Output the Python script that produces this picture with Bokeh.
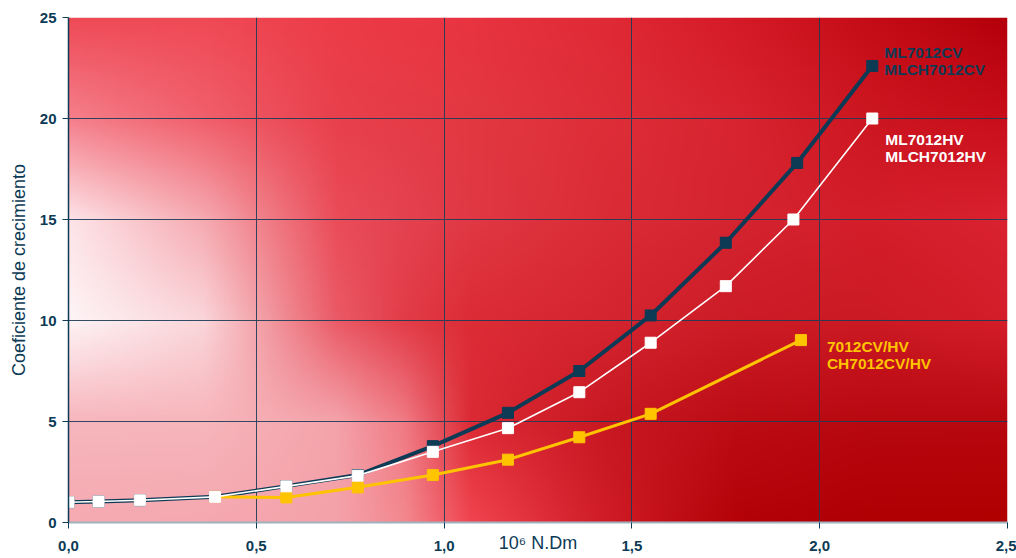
import numpy as np
from bokeh.plotting import figure
from bokeh.models import FixedTicker, Label, Range1d
from bokeh.embed import file_html
from bokeh.resources import INLINE

# ---- data ----
x_cv = [0, 0.08, 0.19, 0.39, 0.58, 0.77, 0.97, 1.17, 1.36, 1.55, 1.75, 1.94, 2.14]
y_cv = [1.0, 1.04, 1.1, 1.27, 1.8, 2.35, 3.78, 5.43, 7.5, 10.25, 13.85, 17.8, 22.6]

x_hv = [0, 0.08, 0.19, 0.39, 0.58, 0.77, 0.97, 1.17, 1.36, 1.55, 1.75, 1.93, 2.14]
y_hv = [1.0, 1.04, 1.1, 1.27, 1.79, 2.32, 3.5, 4.67, 6.45, 8.9, 11.7, 15.0, 20.0]

x_std = [0.39, 0.58, 0.77, 0.97, 1.17, 1.36, 1.55, 1.95]
y_std = [1.27, 1.24, 1.74, 2.35, 3.11, 4.22, 5.38, 9.03]

label_cv = ["ML7012CV", "MLCH7012CV"]
label_hv = ["ML7012HV", "MLCH7012HV"]
label_std = ["7012CV/HV", "CH7012CV/HV"]

x_ticks = [0, 0.5, 1.0, 1.5, 2.0, 2.5]
x_tick_labels = ["0,0", "0,5", "1,0", "1,5", "2,0", "2,5"]
y_ticks = [0, 5, 10, 15, 20, 25]

x_title = "10\u2076 N.Dm"
y_title = "Coeficiente de crecimiento"

# background colour grid (style only): node columns in x, rows from top (y=25) to bottom (y=0)
bg_cols = [0, 0.357, 0.714, 0.893, 1.071, 1.429, 1.786, 2.143, 2.5]
bg_rows = [25, 20, 15, 10, 5, 0]
bg_grid = [
    ["#ee4a56", "#ef4a56", "#ec3c48", "#ea3844", "#e83440", "#e02a36", "#d41a26", "#c40c16", "#b4000a"],
    ["#f5808c", "#f0606c", "#e8404c", "#e53c48", "#e23842", "#de2e38", "#d82430", "#cc1620", "#c80e1a"],
    ["#fde4e8", "#f6aab2", "#ea4c58", "#e44250", "#e03844", "#da2c36", "#d42430", "#d41e2a", "#da2230"],
    ["#fef4f6", "#fad6da", "#ea5a66", "#e23c48", "#dc2c36", "#d42530", "#cc1c26", "#cc1a24", "#d41e2a"],
    ["#f7b6bd", "#f7b6bc", "#f4a2aa", "#f07a84", "#dc2a34", "#c81822", "#bc0c14", "#b80810", "#b80810"],
    ["#f6aab2", "#f5a8b0", "#f5a2aa", "#f3888f", "#f04450", "#d01c26", "#b40208", "#b00004", "#b00000"],
]

NAVY = "#0d3a55"
YELLOW = "#ffc400"
FONT = "Liberation Sans"

X0, X1 = x_ticks[0], x_ticks[-1]
Y0, Y1 = y_ticks[0], y_ticks[-1]

p = figure(width=1016, height=558, x_range=Range1d(X0, X1), y_range=Range1d(Y0, Y1),
           output_backend="svg", toolbar_location=None,
           min_border_left=68, min_border_right=9, min_border_top=17, min_border_bottom=36)
p.outline_line_color = None
p.border_fill_color = "white"

# background gradient image (bilinear blend of the colour grid)
g = np.array([[[int(c[1:3], 16), int(c[3:5], 16), int(c[5:7], 16)] for c in row] for row in bg_grid], dtype=float)
ny, nx = 170, 313
ys = np.linspace(Y0, Y1, ny)          # bottom -> top
xs = np.linspace(X0, X1, nx)
rows_asc = np.array(bg_rows[::-1], dtype=float)
g_asc = g[::-1]
tmp = np.empty((g.shape[0], nx, 3))
for r in range(g.shape[0]):
    for ch in range(3):
        tmp[r, :, ch] = np.interp(xs, bg_cols, g_asc[r, :, ch])
rgb = np.empty((ny, nx, 3))
for ch in range(3):
    for j in range(nx):
        rgb[:, j, ch] = np.interp(ys, rows_asc, tmp[:, j, ch])
img = np.empty((ny, nx), dtype=np.uint32)
view = img.view(dtype=np.uint8).reshape((ny, nx, 4))
view[:, :, :3] = np.clip(rgb, 0, 255).astype(np.uint8)
view[:, :, 3] = 255
p.image_rgba(image=[img], x=X0, y=Y0, dw=X1 - X0, dh=Y1 - Y0, level="image")

# grid
p.grid.grid_line_color = "#1c3b56"
p.grid.grid_line_width = 1
p.grid.grid_line_alpha = 0.9

# axes
p.xaxis.ticker = FixedTicker(ticks=x_ticks)
p.xaxis.major_label_overrides = {t: l for t, l in zip(x_ticks, x_tick_labels)}
p.yaxis.ticker = FixedTicker(ticks=y_ticks)
for ax in (p.xaxis[0], p.yaxis[0]):
    ax.major_label_text_font = FONT
    ax.major_label_text_font_style = "bold"
    ax.major_label_text_font_size = "15px"
    ax.major_label_text_color = NAVY
    ax.major_tick_line_color = NAVY
    ax.major_tick_in = 0
    ax.major_tick_out = 6
    ax.minor_tick_line_color = None
p.xaxis.axis_line_color = "#9fb3bf"
p.xaxis.axis_line_width = 2
p.xaxis.major_label_standoff = 12
p.xaxis.axis_label = x_title
p.xaxis.axis_label_text_font = FONT
p.xaxis.axis_label_text_font_style = "normal"
p.xaxis.axis_label_text_font_size = "18px"
p.xaxis.axis_label_text_color = NAVY
p.xaxis.axis_label_standoff = -21
p.yaxis.axis_line_color = NAVY
p.yaxis.axis_line_width = 1.5
p.yaxis.major_label_standoff = 6
p.yaxis.axis_label = y_title
p.yaxis.axis_label_text_font = FONT
p.yaxis.axis_label_text_font_style = "normal"
p.yaxis.axis_label_text_font_size = "18px"
p.yaxis.axis_label_text_color = NAVY
p.yaxis.axis_label_standoff = 8

# series
p.line(x_cv, y_cv, line_color=NAVY, line_width=4)
p.scatter(x_cv, y_cv, marker="square", size=11, fill_color=NAVY, line_color=NAVY)
p.line(x_std, y_std, line_color=YELLOW, line_width=3)
p.scatter(x_std, y_std, marker="square", size=11, fill_color=YELLOW, line_color=YELLOW)
p.line(x_hv, y_hv, line_color="white", line_width=1.6)
p.scatter(x_hv, y_hv, marker="square", size=11, fill_color="white", line_color="white")

# series labels
def add_lines(lines, x, y, dx, dy_first, color):
    for i, t in enumerate(lines):
        p.add_layout(Label(x=x, y=y, text=t, x_offset=dx, y_offset=dy_first - 17 * i,
                           text_font=FONT, text_font_style="bold", text_font_size="15.5px",
                           text_color=color, text_baseline="alphabetic", text_align="left"))

add_lines(label_cv, x_cv[-1], y_cv[-1], 12, 13, NAVY)
add_lines(label_hv, x_hv[-1], y_hv[-1], 13, -21, "white")
add_lines(label_std, x_std[-1], y_std[-1], 26, -6, YELLOW)

open("out.html", "w").write(file_html(p, INLINE))
